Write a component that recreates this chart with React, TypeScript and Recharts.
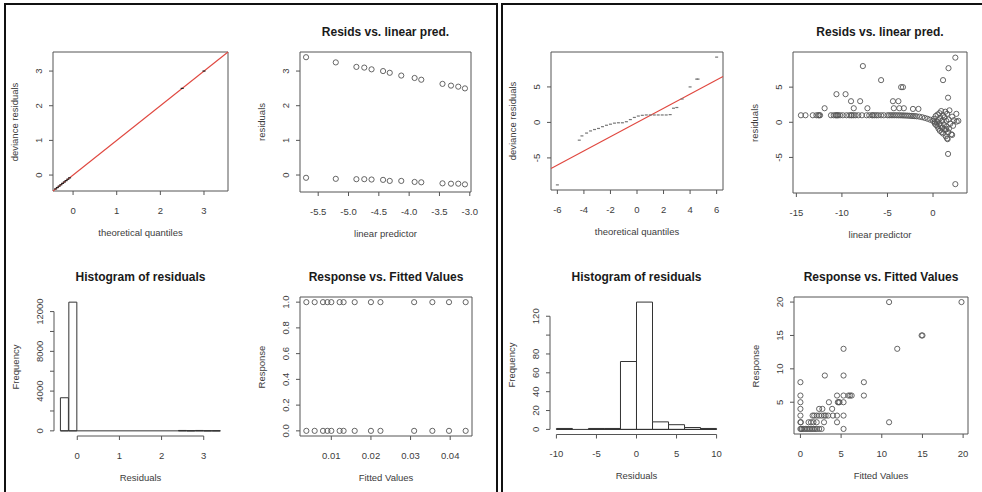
import React from "react";
import {
  ComposedChart,
  Scatter,
  Bar,
  XAxis,
  YAxis,
  ReferenceArea,
  ReferenceLine,
} from "recharts";

const FONT = "'Liberation Sans', Arial, Helvetica, sans-serif";
const AXIS = "#555";
const LABEL = "#3c3c3c";
const POINT = "#555";
const RED = "#e0473f";

// ---- left model: binary response ----
const leftLinPred = [-5.70, -5.21, -4.87, -4.74, -4.62, -4.43, -4.32, -4.13, -3.91, -3.80, -3.45, -3.31, -3.19, -3.08];
const leftResidOne = [3.40, 3.25, 3.12, 3.10, 3.05, 3.00, 2.95, 2.87, 2.80, 2.75, 2.63, 2.58, 2.55, 2.50];
const leftResidZero = [-0.08, -0.11, -0.12, -0.12, -0.13, -0.14, -0.17, -0.17, -0.20, -0.21, -0.24, -0.25, -0.25, -0.27];
const leftFitted = [0.0037, 0.0058, 0.0079, 0.0090, 0.0100, 0.0121, 0.0131, 0.0159, 0.0200, 0.0224, 0.0309, 0.0355, 0.0397, 0.0439];
const leftResponseOne = [1, 1, 1, 1, 1, 1, 1, 1, 1, 1, 1, 1, 1, 1];
const leftResponseZero = [0, 0, 0, 0, 0, 0, 0, 0, 0, 0, 0, 0, 0, 0];
const leftQqTheo = [-0.40, -0.36, -0.32, -0.28, -0.24, -0.20, -0.16, -0.12, -0.08, 2.50, 3.00];
const leftQqDev = [-0.40, -0.36, -0.32, -0.28, -0.24, -0.20, -0.16, -0.12, -0.08, 2.50, 3.00];
const leftHistBreaks = [-0.4, -0.2, 0, 0.2, 0.4, 0.6, 0.8, 1.0, 1.2, 1.4, 1.6, 1.8, 2.0, 2.2, 2.4, 2.6, 2.8, 3.0, 3.2, 3.4];
const leftHistCounts = [3330, 12950, 0, 0, 0, 0, 0, 0, 0, 0, 0, 0, 0, 0, 40, 10, 40, 5, 5];

// ---- right model: count response ----
const rightQqTheo = [-6.0, -4.35, -4.15, -3.8, -3.5, -3.2, -2.9, -2.6, -2.3, -2.0, -1.7, -1.4, -1.1, -0.8, -0.5, -0.2, 0.1, 0.4, 0.7, 1.0, 1.3, 1.6, 1.9, 2.2, 2.5, 2.75, 3.0, 3.4, 4.0, 4.5, 4.6, 6.0];
const rightQqDev = [-8.8, -2.5, -1.9, -1.5, -1.2, -1.0, -0.85, -0.6, -0.4, -0.25, -0.1, -0.05, -0.05, 0.1, 0.4, 0.7, 0.9, 1.0, 1.05, 1.05, 1.05, 1.05, 1.05, 1.05, 1.1, 2.0, 2.1, 3.3, 5.0, 6.1, 6.1, 9.2];

const rightLinPred = [
  -14.5, -14.0, -13.2, -12.8, -12.6, -12.5, -12.4, -11.2, -10.9, -10.7, -10.6, -10.5, -10.4, -10.2, -9.9, -9.5,
  -9.2, -9.0, -8.9, -8.7, -8.5, -8.2, -7.8, -7.3, -7.0, -6.7, -6.6, -6.4, -6.2, -6.0, -5.7, -5.4,
  -5.0, -4.8, -4.6, -4.4, -4.2, -4.0, -3.8, -3.6, -3.4, -3.2, -3.0, -2.8, -2.6, -2.4, -2.2, -2.0,
  -1.8, -1.5, -1.2, -0.9, -0.6, -0.3, 0.0, 0.2,
  0.1, 0.2, 0.3, 0.35, 0.4, 0.5, 0.5, 0.6, 0.6, 0.7, 0.7, 0.75, 0.8, 0.85, 0.9, 0.95, 1.0, 1.0, 1.1, 1.1,
  1.2, 1.25, 1.3, 1.35, 1.4, 1.45, 1.5, 1.55, 1.6, 1.65, 1.7, 1.75, 1.8, 1.9, 2.0, 2.1, 2.1, 2.2, 2.3, 2.56, 2.6, 2.78,
  -7.7, -5.7, -3.5, -3.3, -10.6, -9.6, -9.0, -8.0, -4.4, -3.8, -11.9, -8.7, -7.2, -4.3, -3.7, -3.2, -2.2, -1.6,
  1.1, 1.7, 2.45, 1.65, 1.65, 2.45, 1.55, 1.45,
];
const rightResid = [
  1.0, 1.0, 1.0, 1.0, 1.0, 1.0, 1.0, 1.0, 1.0, 1.0, 1.0, 1.0, 1.0, 1.0, 1.0, 1.0,
  1.0, 1.0, 1.0, 1.0, 1.0, 1.0, 1.0, 1.0, 1.0, 1.0, 1.0, 1.0, 1.0, 1.0, 1.0, 1.0,
  1.0, 1.0, 1.0, 1.0, 1.0, 1.0, 0.99, 0.99, 0.98, 0.97, 0.96, 0.95, 0.93, 0.91, 0.89, 0.88,
  0.85, 0.8, 0.72, 0.62, 0.5, 0.36, 0.2, 0.05,
  0.5, -0.2, 0.9, -0.4, 0.1, 1.1, -0.6, 0.3, -0.9, 1.3, -0.2, -1.2, 0.6, -0.5, 1.6, -1.4, 0.2, -0.8, 1.0, -1.6,
  -0.3, 0.7, -1.1, 1.5, -2.0, 0.2, -0.6, 1.2, -2.4, -1.4, 0.4, -0.9, 1.7, -0.2, -1.7, 0.8, -1.8, -0.5, 0.3, 1.2, 0.1, 0.2,
  8.0, 6.0, 5.0, 5.0, 4.0, 4.0, 3.0, 3.0, 3.0, 3.0, 2.0, 2.0, 2.0, 2.0, 2.0, 2.0, 1.9, 1.9,
  6.0, 7.7, 9.2, 3.5, -4.5, -8.8, -2.3, -1.0,
];

const rightHistBreaks = [-10, -8, -6, -4, -2, 0, 2, 4, 6, 8, 10];
const rightHistCounts = [1, 0, 1, 1, 72, 135, 8, 5, 2, 1];

const rightFitted = [
  10.9, 19.8, 15.0, 14.9, 11.9, 5.3, 3.0, 5.3, 0.0, 7.8,
  0.0, 4.5, 5.3, 5.9, 6.1, 6.3, 7.8, 0.0, 3.5, 4.6, 4.7, 4.8, 5.3,
  0.0, 2.3, 2.7, 3.9, 0.0, 1.5, 1.7, 2.0, 2.3, 2.6, 2.9, 3.1, 3.4, 4.0, 4.5, 5.3,
  0.0, 0.05, 1.0, 1.3, 1.6, 2.0, 2.9, 4.5, 10.9,
  0.0, 0.1, 0.2, 0.4, 0.6, 0.8, 1.0, 1.2, 1.4, 1.6, 1.8, 2.0, 2.3, 2.6, 5.3,
];
const rightResponse = [
  20, 20, 15, 15, 13, 13, 9, 9, 8, 8,
  6, 6, 6, 6, 6, 6, 6, 5, 5, 5, 5, 5, 5,
  4, 4, 4, 4, 3, 3, 3, 3, 3, 3, 3, 3, 3, 3, 3, 3,
  2, 2, 2, 2, 2, 2, 2, 2, 2,
  1, 1, 1, 1, 1, 1, 1, 1, 1, 1, 1, 1, 1, 1, 1,
];

type Pt = { x: number; y: number };
const pairs = (xs: number[], ys: number[]): Pt[] => xs.map((x, i) => ({ x, y: ys[i] }));
const bins = (breaks: number[], counts: number[]): Pt[] =>
  counts.map((c, i) => ({ x: (breaks[i] + breaks[i + 1]) / 2, y: c }));

// chart padding around the plot region
const PAD_L = 60;
const PAD_T = 40;
const PAD_R = 10;
const PAD_B = 60;

const ring = (p: any) => (
  <circle cx={p.cx} cy={p.cy} r={2.6} fill="none" stroke={POINT} strokeWidth={0.9} />
);
const dash = (color: string) => (p: any) => (
  <rect x={p.cx - 1.5} y={p.cy - 0.6} width={3} height={1.2} fill={color} />
);

type PanelProps = {
  box: [number, number, number, number];
  xDomain: [number, number];
  yDomain: [number, number];
  xTicks: number[];
  yTicks: number[];
  xDigits?: number;
  yDigits?: number;
  yShow?: (v: number) => boolean;
  title?: string;
  xLabel: string;
  yLabel: string;
  framed?: boolean;
  data?: Pt[];
  children?: React.ReactNode;
};

function Panel(p: PanelProps) {
  const [l, t, r, b] = p.box;
  const w = r - l;
  const h = b - t;
  const xs = p.xTicks;
  const ys = p.yTicks;
  const txt = { fontFamily: FONT, fontSize: 9.5, fill: LABEL };

  const xTick = (props: any) => (
    <text x={props.x} y={props.y + 13} textAnchor="middle" dominantBaseline="central" {...txt}>
      {Number(props.payload.value).toFixed(p.xDigits ?? 0)}
    </text>
  );
  const yTick = (props: any) => {
    const v = Number(props.payload.value);
    if (p.yShow && !p.yShow(v)) return <g />;
    const cx = props.x - 8.5;
    return (
      <text
        x={cx}
        y={props.y}
        textAnchor="middle"
        dominantBaseline="central"
        transform={`rotate(-90 ${cx} ${props.y})`}
        {...txt}
      >
        {v.toFixed(p.yDigits ?? 0)}
      </text>
    );
  };

  const label: React.CSSProperties = {
    position: "absolute",
    whiteSpace: "nowrap",
    lineHeight: 1,
    fontFamily: FONT,
    fontSize: 9.5,
    color: LABEL,
  };

  return (
    <>
      <div style={{ position: "absolute", left: l - PAD_L, top: t - PAD_T }}>
        <ComposedChart
          width={w + PAD_L + PAD_R}
          height={h + PAD_T + PAD_B}
          data={p.data}
          margin={{ top: PAD_T, right: PAD_R, bottom: 0, left: 0 }}
          barCategoryGap={0}
          barGap={0}
        >
          <XAxis
            type="number"
            dataKey="x"
            domain={p.xDomain}
            ticks={xs}
            interval={0}
            allowDataOverflow
            height={PAD_B}
            axisLine={false}
            tickSize={4}
            tickMargin={2}
            tickLine={{ stroke: AXIS }}
            tick={xTick}
          />
          <YAxis
            type="number"
            dataKey="y"
            domain={p.yDomain}
            ticks={ys}
            interval={0}
            allowDataOverflow
            width={PAD_L}
            axisLine={false}
            tickSize={4}
            tickMargin={2}
            tickLine={{ stroke: AXIS }}
            tick={yTick}
          />
          {p.framed ? (
            <ReferenceArea
              x1={p.xDomain[0]}
              x2={p.xDomain[1]}
              y1={p.yDomain[0]}
              y2={p.yDomain[1]}
              fill="none"
              stroke={AXIS}
              strokeWidth={1}
              ifOverflow="visible"
            />
          ) : (
            <>
              <ReferenceLine
                segment={[{ x: xs[0], y: p.yDomain[0] }, { x: xs[xs.length - 1], y: p.yDomain[0] }]}
                stroke={AXIS}
                ifOverflow="visible"
              />
              <ReferenceLine
                segment={[{ x: p.xDomain[0], y: ys[0] }, { x: p.xDomain[0], y: ys[ys.length - 1] }]}
                stroke={AXIS}
                ifOverflow="visible"
              />
            </>
          )}
          {p.children}
        </ComposedChart>
      </div>
      {p.title && (
        <div
          style={{
            ...label,
            left: (l + r) / 2,
            top: t - 20,
            transform: "translate(-50%, -50%)",
            fontSize: 12,
            fontWeight: "bold",
            color: "#1a1a1a",
          }}
        >
          {p.title}
        </div>
      )}
      <div style={{ ...label, left: (l + r) / 2, top: b + 41.5, transform: "translate(-50%, -50%)" }}>
        {p.xLabel}
      </div>
      <div
        style={{
          ...label,
          left: l - 38.5,
          top: (t + b) / 2,
          transform: "translate(-50%, -50%) rotate(-90deg)",
        }}
      >
        {p.yLabel}
      </div>
    </>
  );
}

function Histogram({ breaks }: { breaks: number[] }) {
  return (
    <>
      <ReferenceLine
        segment={[{ x: breaks[0], y: 0 }, { x: breaks[breaks.length - 1], y: 0 }]}
        stroke="#333"
        ifOverflow="visible"
      />
      <Bar dataKey="y" fill="#fff" stroke="#333" strokeWidth={1} isAnimationActive={false} />
    </>
  );
}

export default function App() {
  return (
    <div
      style={{
        position: "absolute",
        left: 0,
        top: 0,
        width: 982,
        height: 492,
        background: "#fff",
        overflow: "hidden",
      }}
    >
      {/* panel frames */}
      <div
        style={{
          position: "absolute",
          left: 4,
          top: 3,
          width: 494,
          height: 500,
          boxSizing: "border-box",
          borderTop: "2px solid #111",
          borderLeft: "2px solid #111",
          borderRight: "2px solid #111",
        }}
      />
      <div
        style={{
          position: "absolute",
          left: 501,
          top: 3,
          width: 490,
          height: 500,
          boxSizing: "border-box",
          borderTop: "2px solid #111",
          borderLeft: "2px solid #111",
        }}
      />

      {/* left model */}
      <Panel
        box={[53, 52, 228, 191]}
        xDomain={[-0.46, 3.55]}
        yDomain={[-0.46, 3.55]}
        xTicks={[0, 1, 2, 3]}
        yTicks={[0, 1, 2, 3]}
        xLabel="theoretical quantiles"
        yLabel="deviance residuals"
        framed
      >
        <ReferenceLine
          segment={[{ x: -0.46, y: -0.46 }, { x: 3.55, y: 3.55 }]}
          stroke={RED}
          strokeWidth={1.1}
          ifOverflow="visible"
        />
        <Scatter data={pairs(leftQqTheo, leftQqDev)} shape={dash("#222")} isAnimationActive={false} />
      </Panel>

      <Panel
        box={[300, 52, 471, 192]}
        xDomain={[-5.8, -2.98]}
        yDomain={[-0.49, 3.55]}
        xTicks={[-5.5, -5, -4.5, -4, -3.5, -3]}
        yTicks={[0, 1, 2, 3]}
        xDigits={1}
        title="Resids vs. linear pred."
        xLabel="linear predictor"
        yLabel="residuals"
        framed
      >
        <Scatter data={pairs(leftLinPred, leftResidOne)} shape={ring} isAnimationActive={false} />
        <Scatter data={pairs(leftLinPred, leftResidZero)} shape={ring} isAnimationActive={false} />
      </Panel>

      <Panel
        box={[54, 297, 227, 436]}
        xDomain={[-0.552, 3.552]}
        yDomain={[-518, 13468]}
        xTicks={[0, 1, 2, 3]}
        yTicks={[0, 2000, 4000, 6000, 8000, 10000, 12000]}
        yShow={(v) => v % 4000 === 0}
        title="Histogram of residuals"
        xLabel="Residuals"
        yLabel="Frequency"
        data={bins(leftHistBreaks, leftHistCounts)}
      >
        <Histogram breaks={leftHistBreaks} />
      </Panel>

      <Panel
        box={[300, 297, 472, 436]}
        xDomain={[0.0021, 0.0455]}
        yDomain={[-0.04, 1.04]}
        xTicks={[0.01, 0.02, 0.03, 0.04]}
        yTicks={[0, 0.2, 0.4, 0.6, 0.8, 1]}
        xDigits={2}
        yDigits={1}
        title="Response vs. Fitted Values"
        xLabel="Fitted Values"
        yLabel="Response"
        framed
      >
        <Scatter data={pairs(leftFitted, leftResponseOne)} shape={ring} isAnimationActive={false} />
        <Scatter data={pairs(leftFitted, leftResponseZero)} shape={ring} isAnimationActive={false} />
      </Panel>

      {/* right model */}
      <Panel
        box={[551, 52, 723, 190]}
        xDomain={[-6.48, 6.48]}
        yDomain={[-9.52, 9.92]}
        xTicks={[-6, -4, -2, 0, 2, 4, 6]}
        yTicks={[-5, 0, 5]}
        xLabel="theoretical quantiles"
        yLabel="deviance residuals"
        framed
      >
        <ReferenceLine
          segment={[{ x: -6.48, y: -6.48 }, { x: 6.48, y: 6.48 }]}
          stroke={RED}
          strokeWidth={1.1}
          ifOverflow="visible"
        />
        <Scatter data={pairs(rightQqTheo, rightQqDev)} shape={dash("#777")} isAnimationActive={false} />
      </Panel>

      <Panel
        box={[793, 52, 967, 193]}
        xDomain={[-15.37, 3.73]}
        yDomain={[-10.06, 10.0]}
        xTicks={[-15, -10, -5, 0]}
        yTicks={[-5, 0, 5]}
        title="Resids vs. linear pred."
        xLabel="linear predictor"
        yLabel="residuals"
        framed
      >
        <Scatter data={pairs(rightLinPred, rightResid)} shape={ring} isAnimationActive={false} />
      </Panel>

      <Panel
        box={[550, 296.5, 723, 434]}
        xDomain={[-10.8, 10.8]}
        yDomain={[-5.4, 140.4]}
        xTicks={[-10, -5, 0, 5, 10]}
        yTicks={[0, 20, 40, 60, 80, 100, 120]}
        yShow={(v) => v !== 100}
        title="Histogram of residuals"
        xLabel="Residuals"
        yLabel="Frequency"
        data={bins(rightHistBreaks, rightHistCounts)}
      >
        <Histogram breaks={rightHistBreaks} />
      </Panel>

      <Panel
        box={[794, 297, 968, 434]}
        xDomain={[-0.79, 20.6]}
        yDomain={[0.24, 20.76]}
        xTicks={[0, 5, 10, 15, 20]}
        yTicks={[5, 10, 15, 20]}
        title="Response vs. Fitted Values"
        xLabel="Fitted Values"
        yLabel="Response"
        framed
      >
        <Scatter data={pairs(rightFitted, rightResponse)} shape={ring} isAnimationActive={false} />
      </Panel>
    </div>
  );
}
